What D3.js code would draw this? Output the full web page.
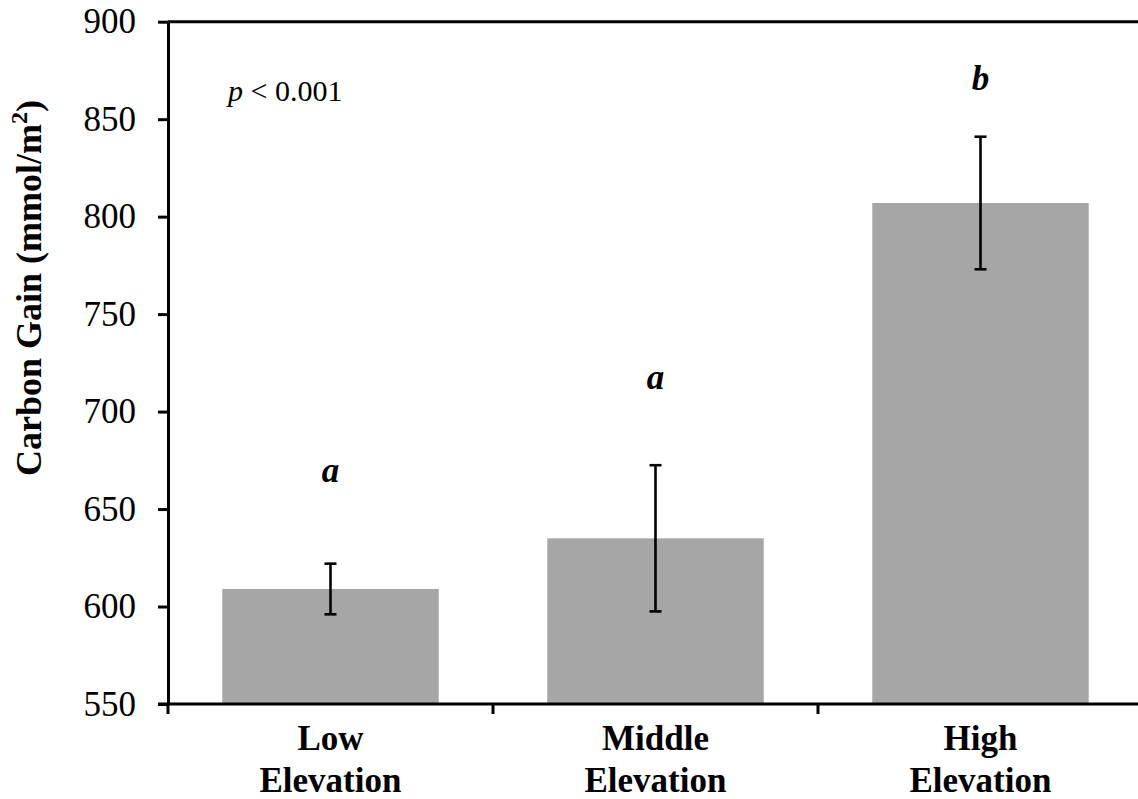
<!DOCTYPE html>
<html>
<head>
<meta charset="utf-8">
<script src="https://cdn.jsdelivr.net/npm/d3@7"></script>
<style>
  body { margin: 0; background: #fff; }
  svg { display: block; font-family: "Liberation Serif", "Times New Roman", serif; }
</style>
</head>
<body>
<script>
// data
const categories = ["Low Elevation", "Middle Elevation", "High Elevation"];
const carbonGain = [609, 635, 807];
const errorBars = [13, 37.5, 34];
const sigLetters = ["a", "a", "b"];
const sigLetterAt = [664, 711.5, 865];   // in data units, where the letter baseline sits
const yTicks = [550, 600, 650, 700, 750, 800, 850, 900];

const W = 1138, H = 799;
const plotLeft = 168, plotTop = 21.7, plotBottom = 704, plotRight = 1143;

const svg = d3.select("body").append("svg")
  .attr("width", W)
  .attr("height", H);

const yScale = d3.scaleLinear()
  .domain([550, 900])
  .range([plotBottom, plotTop]);

const xScale = d3.scaleBand()
  .domain(categories)
  .range([plotLeft, plotRight])
  .paddingInner(0.334)
  .paddingOuter(0.167);

// bars
svg.selectAll("rect.bar")
  .data(categories)
  .enter()
  .append("rect")
  .attr("class", "bar")
  .attr("x", d => xScale(d))
  .attr("y", (d, i) => yScale(carbonGain[i]))
  .attr("width", xScale.bandwidth())
  .attr("height", (d, i) => yScale(550) - yScale(carbonGain[i]))
  .style("fill", "#a6a6a6");

// error bars
const eb = svg.selectAll("g.err")
  .data(categories)
  .enter()
  .append("g")
  .attr("class", "err")
  .attr("stroke", "#000")
  .attr("stroke-width", 2.6);

const cx = d => xScale(d) + xScale.bandwidth() / 2;

eb.append("line")
  .attr("x1", cx).attr("x2", cx)
  .attr("y1", (d, i) => yScale(carbonGain[i] + errorBars[i]))
  .attr("y2", (d, i) => yScale(carbonGain[i] - errorBars[i]));
eb.append("line")
  .attr("x1", d => cx(d) - 6).attr("x2", d => cx(d) + 6)
  .attr("y1", (d, i) => yScale(carbonGain[i] + errorBars[i]))
  .attr("y2", (d, i) => yScale(carbonGain[i] + errorBars[i]));
eb.append("line")
  .attr("x1", d => cx(d) - 6).attr("x2", d => cx(d) + 6)
  .attr("y1", (d, i) => yScale(carbonGain[i] - errorBars[i]))
  .attr("y2", (d, i) => yScale(carbonGain[i] - errorBars[i]));

// significance letters
svg.selectAll("text.sig")
  .data(categories)
  .enter()
  .append("text")
  .attr("class", "sig")
  .attr("x", cx)
  .attr("y", (d, i) => yScale(sigLetterAt[i]))
  .attr("text-anchor", "middle")
  .style("font-size", "35px")
  .style("font-weight", "bold")
  .style("font-style", "italic")
  .text((d, i) => sigLetters[i]);

// y axis
const yAxis = d3.axisLeft(yScale)
  .tickValues(yTicks)
  .tickSize(10)
  .tickSizeOuter(0)
  .tickPadding(22);

const gy = svg.append("g")
  .attr("transform", "translate(" + plotLeft + ",0)")
  .call(yAxis);
gy.select(".domain").attr("stroke-width", 3);
gy.selectAll(".tick line").attr("stroke-width", 3);
gy.selectAll(".tick text")
  .style("font-size", "35px")
  .style("font-family", "Liberation Serif, serif")
  .attr("fill", "#000");

// top frame line
svg.append("line")
  .attr("x1", plotLeft).attr("x2", W)
  .attr("y1", yScale(900)).attr("y2", yScale(900))
  .attr("stroke", "#000")
  .attr("stroke-width", 3);

// x axis line and ticks at band boundaries
svg.append("line")
  .attr("x1", plotLeft - 10).attr("x2", W)
  .attr("y1", plotBottom).attr("y2", plotBottom)
  .attr("stroke", "#000")
  .attr("stroke-width", 3);

const bounds = categories.map(d => xScale(d) - xScale.step() * xScale.paddingInner() / 2);
bounds.push(plotRight);
svg.selectAll("line.xtick")
  .data(bounds)
  .enter()
  .append("line")
  .attr("class", "xtick")
  .attr("x1", d => d).attr("x2", d => d)
  .attr("y1", plotBottom).attr("y2", plotBottom + 10)
  .attr("stroke", "#000")
  .attr("stroke-width", 3);

// category labels, two lines
const lab = svg.selectAll("text.cat")
  .data(categories)
  .enter()
  .append("text")
  .attr("class", "cat")
  .attr("text-anchor", "middle")
  .style("font-size", "35px")
  .style("font-weight", "bold");
lab.append("tspan")
  .attr("x", cx)
  .attr("y", 750)
  .text(d => d.split(" ")[0]);
lab.append("tspan")
  .attr("x", cx)
  .attr("y", 792)
  .text(d => d.split(" ")[1]);

// p value
const pt = svg.append("text")
  .attr("x", 228)
  .attr("y", 101)
  .style("font-size", "30px");
pt.append("tspan").style("font-style", "italic").text("p");
pt.append("tspan").text(" < 0.001");

// y axis title
const yt = svg.append("text")
  .attr("transform", "translate(41,288) rotate(-90)")
  .attr("text-anchor", "middle")
  .style("font-size", "36px")
  .style("font-weight", "bold");
yt.append("tspan").text("Carbon Gain (mmol/m");
yt.append("tspan").attr("dy", -14).style("font-size", "24px").text("2");
yt.append("tspan").attr("dy", 14).text(")");
</script>
</body>
</html>
